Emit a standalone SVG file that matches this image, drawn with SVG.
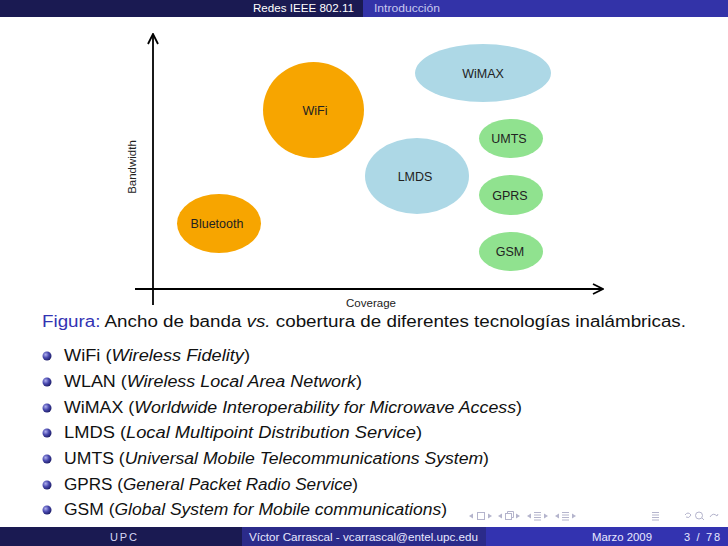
<svg xmlns="http://www.w3.org/2000/svg" width="728" height="546" viewBox="0 0 728 546">
<defs>
<radialGradient id="ball" cx="0.35" cy="0.35" r="0.7">
<stop offset="0" stop-color="#b0b0ee"/>
<stop offset="0.5" stop-color="#4a4ab0"/>
<stop offset="1" stop-color="#1c1c66"/>
</radialGradient>
<marker id="arr" viewBox="0 0 12 12" refX="11" refY="6" markerWidth="12" markerHeight="12" markerUnits="userSpaceOnUse" orient="auto">
<path d="M1,1 L11,6 L1,11" fill="none" stroke="#000" stroke-width="1.8"/>
</marker>
</defs>
<style>
.hd{font-family:"Liberation Sans",Arial,sans-serif;font-size:11px;}
.lbl{font-family:"Liberation Sans",Arial,sans-serif;font-size:12.5px;fill:#222;text-anchor:middle;}
.ax{font-family:"Liberation Sans",Arial,sans-serif;font-size:11.5px;fill:#222;text-anchor:middle;}
.body{font-family:"Liberation Sans",Arial,sans-serif;font-size:16px;fill:#111;}
.it{font-style:italic;}
.orange{fill:#f7a500;}
.blue{fill:#add8e6;}
.green{fill:#90e28f;}
.nav{fill:none;stroke:#b4b4cc;stroke-width:1;}
.navf{fill:#b4b4cc;}
</style>
<rect width="728" height="546" fill="#fff"/>
<!-- header -->
<rect x="0" y="0" width="363" height="17" fill="#1a1a52"/>
<rect x="363" y="0" width="365" height="17" fill="#3333a8"/>
<text class="hd" x="253" y="12" fill="#ffffff" textLength="101" lengthAdjust="spacingAndGlyphs">Redes IEEE 802.11</text>
<text class="hd" x="374" y="12" fill="#c8c8ee" textLength="66" lengthAdjust="spacingAndGlyphs">Introducción</text>
<!-- footer -->
<rect x="0" y="527" width="242" height="19" fill="#1a1a52"/>
<rect x="242" y="527" width="244" height="19" fill="#2b2b8a"/>
<rect x="486" y="527" width="242" height="19" fill="#3333b0"/>
<text class="hd" x="110" y="541" fill="#d8d8f5" textLength="27" lengthAdjust="spacing">UPC</text>
<text class="hd" x="249" y="541" fill="#e8e8ff" textLength="229" lengthAdjust="spacingAndGlyphs">Víctor Carrascal - vcarrascal@entel.upc.edu</text>
<text class="hd" x="592" y="541" fill="#e8e8ff" textLength="60" lengthAdjust="spacingAndGlyphs">Marzo 2009</text>
<text class="hd" x="684" y="541" fill="#e8e8ff" textLength="36" lengthAdjust="spacing">3 / 78</text>
<!-- axes -->
<g id="connectors">
<line x1="153" y1="305" x2="153" y2="34" stroke="#000" stroke-width="1.8" marker-end="url(#arr)"/>
<line x1="135" y1="289" x2="603" y2="289" stroke="#000" stroke-width="1.8" marker-end="url(#arr)"/>
</g>
<text class="ax" transform="translate(136,167) rotate(-90)">Bandwidth</text>
<text class="ax" x="371" y="307">Coverage</text>
<!-- nodes -->
<g id="wifi"><ellipse class="orange" cx="313.5" cy="110" rx="50.5" ry="48"/><text class="lbl" x="315" y="115">WiFi</text></g>
<g id="bluetooth"><ellipse class="orange" cx="219" cy="223.5" rx="42" ry="29.5"/><text class="lbl" x="217" y="228">Bluetooth</text></g>
<g id="wimax"><ellipse class="blue" cx="483" cy="73" rx="68" ry="29"/><text class="lbl" x="483" y="78">WiMAX</text></g>
<g id="lmds"><ellipse class="blue" cx="417" cy="176" rx="52" ry="38"/><text class="lbl" x="415" y="181">LMDS</text></g>
<g id="umts"><ellipse class="green" cx="511" cy="138.5" rx="32" ry="19.5"/><text class="lbl" x="509" y="143">UMTS</text></g>
<g id="gprs"><ellipse class="green" cx="511" cy="195" rx="32" ry="20"/><text class="lbl" x="510" y="200">GPRS</text></g>
<g id="gsm"><ellipse class="green" cx="511" cy="251.5" rx="32" ry="19.5"/><text class="lbl" x="510" y="256">GSM</text></g>
<!-- caption -->
<text class="body" x="42" y="327" font-size="17" textLength="644" lengthAdjust="spacingAndGlyphs"><tspan fill="#3333b3">Figura:</tspan> Ancho de banda <tspan class="it">vs.</tspan> cobertura de diferentes tecnologías inalámbricas.</text>
<!-- bullets -->
<g id="bullets">
<circle cx="47" cy="356" r="4.5" fill="url(#ball)"/>
<circle cx="47" cy="382" r="4.5" fill="url(#ball)"/>
<circle cx="47" cy="408" r="4.5" fill="url(#ball)"/>
<circle cx="47" cy="433" r="4.5" fill="url(#ball)"/>
<circle cx="47" cy="459" r="4.5" fill="url(#ball)"/>
<circle cx="47" cy="485" r="4.5" fill="url(#ball)"/>
<circle cx="47" cy="510" r="4.5" fill="url(#ball)"/>
</g>
<text class="body" x="64" y="361" textLength="186" lengthAdjust="spacingAndGlyphs">WiFi (<tspan class="it">Wireless Fidelity</tspan>)</text>
<text class="body" x="64" y="387" textLength="298" lengthAdjust="spacingAndGlyphs">WLAN (<tspan class="it">Wireless Local Area Network</tspan>)</text>
<text class="body" x="64" y="413" textLength="458" lengthAdjust="spacingAndGlyphs">WiMAX (<tspan class="it">Worldwide Interoperability for Microwave Access</tspan>)</text>
<text class="body" x="64" y="438" textLength="358" lengthAdjust="spacingAndGlyphs">LMDS (<tspan class="it">Local Multipoint Distribution Service</tspan>)</text>
<text class="body" x="64" y="464" textLength="425" lengthAdjust="spacingAndGlyphs">UMTS (<tspan class="it">Universal Mobile Telecommunications System</tspan>)</text>
<text class="body" x="64" y="490" textLength="294" lengthAdjust="spacingAndGlyphs">GPRS (<tspan class="it">General Packet Radio Service</tspan>)</text>
<text class="body" x="64" y="515" textLength="383" lengthAdjust="spacingAndGlyphs">GSM (<tspan class="it">Global System for Mobile communications</tspan>)</text>
<!-- navigation symbols -->
<g id="nav">
<path class="navf" d="M469,516 l4,-2.5 v5 z"/><rect class="nav" x="477.5" y="512.5" width="7" height="7"/><path class="navf" d="M492,516 l-4,-2.5 v5 z"/>
<path class="navf" d="M498,516 l4,-2.5 v5 z"/><rect class="nav" x="505.5" y="513.5" width="6" height="6"/><path class="nav" d="M507.5,513.5 v-2 h6 v6 h-2"/><path class="navf" d="M520,516 l-4,-2.5 v5 z"/>
<path class="navf" d="M527,516 l4,-2.5 v5 z"/><path class="nav" d="M534,512.5 h7 M534,515 h7 M534,517.5 h7 M534,520 h7"/><path class="navf" d="M548,516 l-4,-2.5 v5 z"/>
<path class="navf" d="M555,516 l4,-2.5 v5 z"/><path class="nav" d="M562,512.5 h7 M562,515 h7 M562,517.5 h7 M562,520 h7"/><path class="navf" d="M576,516 l-4,-2.5 v5 z"/>
<path class="nav" d="M652,512.5 h7 M652,515 h7 M652,517.5 h7 M652,520 h7"/>
<path class="nav" d="M685,515 q3,-4 6,0 q-2,4 -5,2"/><circle class="nav" cx="699" cy="515.5" r="3.5"/><path class="nav" d="M702,518 l2,2"/><path class="nav" d="M710,517 q3,-5 7,-1 l1,-2"/>
</g>
</svg>
